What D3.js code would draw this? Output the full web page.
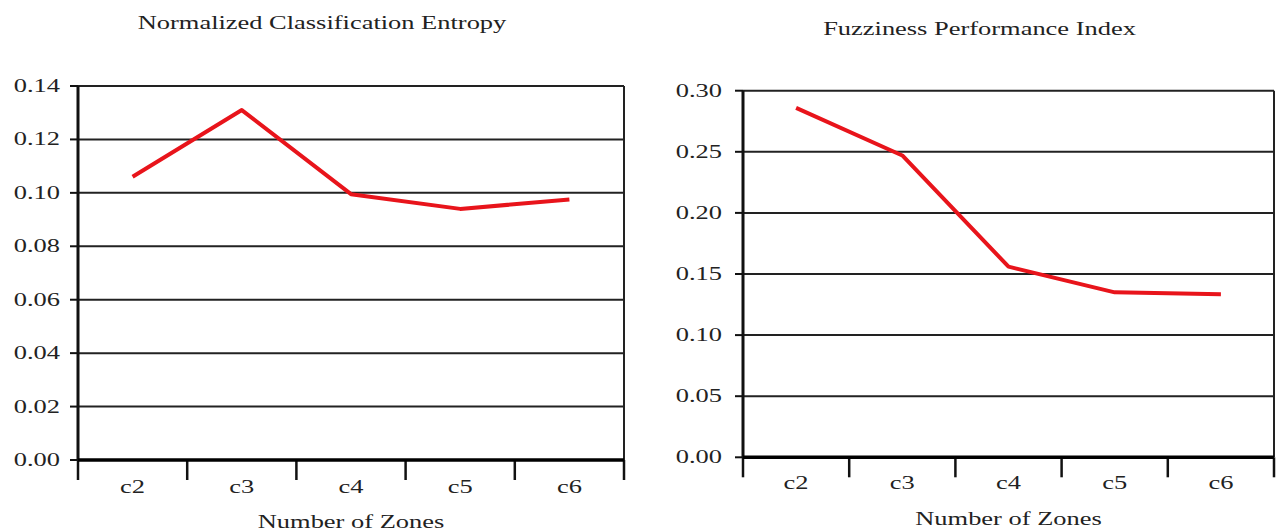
<!DOCTYPE html>
<html>
<head>
<meta charset="utf-8">
<script src="https://cdn.jsdelivr.net/npm/d3@7"></script>
<style>
  body { margin: 0; background: #fff; }
  svg text { font-family: "Liberation Serif", "DejaVu Serif", serif; font-size: 18px; fill: #222; }
</style>
</head>
<body>
<svg id="chart" width="1276" height="531"></svg>
<script>
// data
const zones = ["c2", "c3", "c4", "c5", "c6"];
const entropy = [0.106, 0.131, 0.0995, 0.094, 0.0975];
const fpi = [0.286, 0.247, 0.156, 0.135, 0.1335];
const entropyTicks = [0, 0.02, 0.04, 0.06, 0.08, 0.10, 0.12, 0.14];
const fpiTicks = [0, 0.05, 0.10, 0.15, 0.20, 0.25, 0.30];

const svg = d3.select("#chart");
const stretch = 1.47; // the original text is wide

function label(g, x, y, txt, anchor) {
  g.append("text")
    .attr("transform", `translate(${x},${y}) scale(${stretch},1)`)
    .attr("text-anchor", anchor || "middle")
    .text(txt);
}

function panel(p) {
  const g = svg.append("g");
  const x = d3.scaleBand().domain(zones).range([p.left, p.right]);
  const y = d3.scaleLinear().domain([0, p.max]).range([p.bottom, p.top]);

  // gridlines
  g.selectAll(".grid").data(p.ticks.slice(1)).enter().append("line")
    .attr("x1", p.left).attr("x2", p.right)
    .attr("y1", d => y(d)).attr("y2", d => y(d))
    .attr("stroke", "#222").attr("stroke-width", 2);

  // y ticks + labels
  p.ticks.forEach(t => {
    g.append("line").attr("x1", p.left - 8).attr("x2", p.left)
      .attr("y1", y(t)).attr("y2", y(t)).attr("stroke", "#111").attr("stroke-width", 2);
    label(g, p.left - p.labelGap, y(t) + 6, d3.format(".2f")(t), "end");
  });

  // x ticks at band edges
  const edges = zones.map(z => x(z)).concat([p.right]);
  g.selectAll(".xt").data(edges).enter().append("line")
    .attr("x1", d => d).attr("x2", d => d)
    .attr("y1", p.bottom).attr("y2", p.bottom + 20)
    .attr("stroke", "#111").attr("stroke-width", 2.5);
  zones.forEach(z => label(g, x(z) + x.bandwidth() / 2, p.bottom + p.xLabelDy, z));

  // frame
  g.append("line").attr("x1", p.left).attr("x2", p.left).attr("y1", p.top).attr("y2", p.bottom)
    .attr("stroke", "#111").attr("stroke-width", 3);
  g.append("line").attr("x1", p.right).attr("x2", p.right).attr("y1", p.top).attr("y2", p.bottom)
    .attr("stroke", "#222").attr("stroke-width", 2);
  g.append("line").attr("x1", p.left).attr("x2", p.right).attr("y1", p.bottom).attr("y2", p.bottom)
    .attr("stroke", "#000").attr("stroke-width", 3.5);

  // series line
  const line = d3.line().x((d, i) => x(zones[i]) + x.bandwidth() / 2).y(d => y(d));
  g.append("path").datum(p.values).attr("d", line)
    .attr("fill", "none").attr("stroke", "#e8141b").attr("stroke-width", 4)
    .attr("stroke-linejoin", "round");

  label(g, (p.left + p.right) / 2 + p.titleDx, p.titleY, p.title);
  label(g, (p.left + p.right) / 2, p.xTitleY, "Number of Zones");
}

panel({
  title: "Normalized Classification Entropy", titleY: 29, titleDx: -29,
  values: entropy, ticks: entropyTicks, max: 0.14,
  left: 78, right: 624, top: 86, bottom: 460,
  labelGap: 18, xLabelDy: 33, xTitleY: 528
});
panel({
  title: "Fuzziness Performance Index", titleY: 35, titleDx: -29,
  values: fpi, ticks: fpiTicks, max: 0.30,
  left: 743, right: 1274, top: 90.7, bottom: 457.3,
  labelGap: 21, xLabelDy: 32, xTitleY: 525
});
</script>
</body>
</html>
